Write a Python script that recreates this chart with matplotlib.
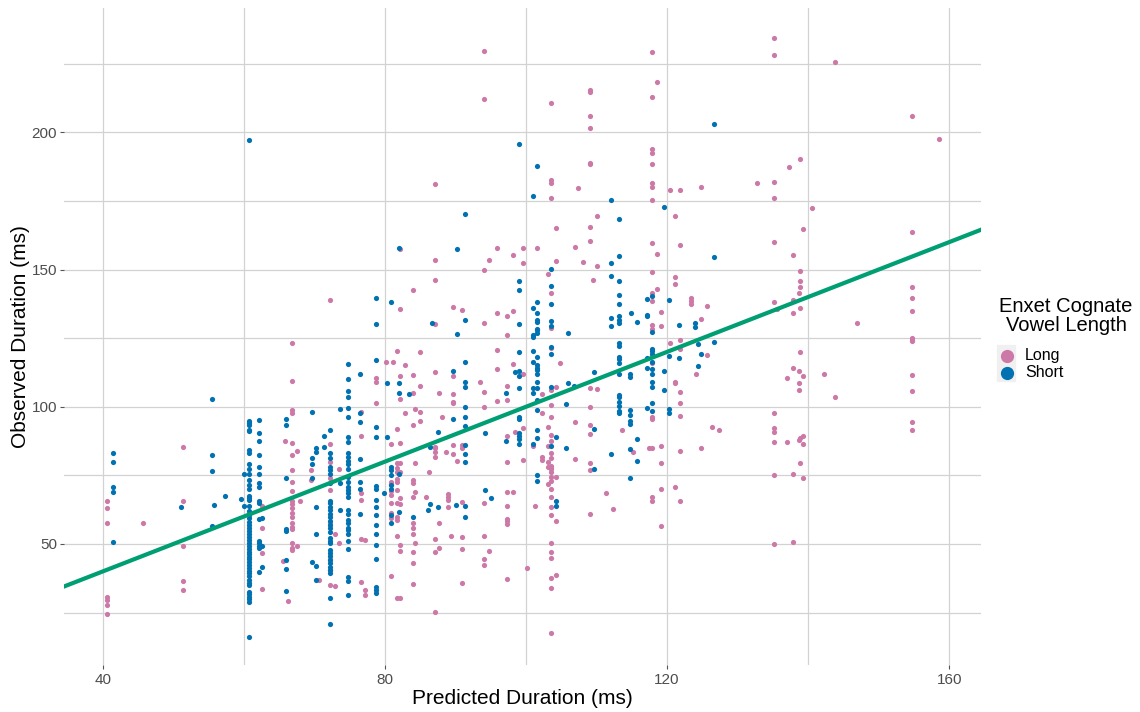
import matplotlib
matplotlib.use("Agg")
import matplotlib.pyplot as plt
from matplotlib.lines import Line2D
from matplotlib.patches import Rectangle

plt.rcParams['font.family'] = ['Liberation Sans', 'DejaVu Sans']

# ---------------- data ----------------
# Each entry: (predicted duration, [observed durations])
short_columns = [
    (41.4, [83.1, 79.7, 70.6, 68.8, 50.6]),
    (51.1, [63.3]),
    (55.5, [102.8, 82.3, 76.7, 56.6]),
    (55.7, [64.2]),
    (57.3, [67.4]),
    (59.6, [66.4]),
    (60.0, [75.5, 63.9]),
    (60.7, [197.2, 94.9, 94.2, 93.3, 91.7, 91.0, 84.2, 83.2, 79.1, 77.2, 75.5, 73.3,
            71.6, 69.9, 67.4, 66.8, 65.9, 63.8, 62.1, 60.4, 59.3, 58.1, 56.9, 55.7,
            54.7, 53.6, 52.4, 51.4, 50.4, 49.2, 48.0, 47.2, 46.3, 45.3, 44.4, 43.3,
            42.3, 41.4, 40.2, 39.3, 38.3, 36.8, 35.9, 34.9, 32.6, 31.7, 30.8, 29.8,
            28.9, 16.2]),
    (62.2, [95.1, 90.5, 87.5, 82.5, 78.1, 75.5, 72.1, 70.8, 65.7, 64.8, 59.1, 51.2,
            50.2, 49.2, 48.4, 39.7]),
    (62.5, [59.3, 49.1, 41.6]),
    (66.0, [95.6, 93.3, 74.1, 55.3, 54.8, 44.1, 40.7, 32.7]),
    (69.6, [98.2, 81.4, 79.3, 73.9, 43.6]),
    (70.2, [84.8, 83.4, 63.6, 53.6, 41.9, 36.8]),
    (71.3, [89.4, 85.4]),
    (72.2, [91.5, 83.0, 81.4, 78.1, 76.9, 75.5, 72.1, 65.7, 64.8, 63.6, 62.3, 61.1,
            59.9, 58.5, 56.9, 55.7, 54.4, 52.0, 51.2, 50.2, 47.8, 46.8, 45.8, 44.1,
            42.9, 41.7, 40.5, 39.5, 30.2, 21.0]),
    (73.6, [99.3, 72.3, 62.3]),
    (74.8, [115.4, 110.1, 105.7, 103.6, 99.4, 96.4, 89.1, 87.2, 83.0, 81.8, 80.3,
            79.0, 77.5, 74.5, 72.7, 70.8, 69.6, 68.4, 67.2, 62.3, 60.9, 58.9, 57.5,
            56.0, 55.1, 53.6, 51.2, 48.1, 38.0, 36.6, 31.4]),
    (76.5, [111.8, 97.6, 94.5, 80.9, 72.7, 70.2, 60.9]),
    (78.8, [139.5, 130.1, 117.0, 92.5, 88.8, 71.3, 70.2, 66.0, 63.6, 60.5, 56.9,
            53.6, 49.8, 44.6, 34.4, 33.2, 32.2]),
    (79.9, [68.7]),
    (80.3, [108.7, 88.9]),
    (80.8, [138.0, 78.1, 76.9, 75.3, 71.5, 70.2, 60.5, 57.7]),
    (82.0, [157.7, 108.7, 104.9, 75.5, 61.6]),
    (83.4, [104.5]),
    (84.0, [59.7]),
    (86.1, [62.3]),
    (86.4, [85.4, 64.5]),
    (86.7, [130.6]),
    (87.5, [90.9, 63.6]),
    (89.7, [113.1, 95.5]),
    (90.1, [64.2]),
    (90.2, [157.5, 126.6]),
    (91.3, [170.2, 131.5, 116.4, 108.9, 107.3, 100.0, 96.1, 93.0, 86.0, 82.8, 79.7,
            63.9, 59.7]),
    (94.2, [90.5, 69.6]),
    (95.0, [66.7]),
    (97.1, [105.1, 87.5]),
    (98.5, [112.8]),
    (99.0, [195.7, 146.0, 142.6, 130.1, 120.0, 113.1, 111.2, 107.0, 96.4, 95.7,
            90.5, 89.3, 88.4, 86.6]),
    (101.0, [176.7, 136.1, 126.1, 125.3, 120.4, 116.4, 107.0, 105.1, 86.3]),
    (101.6, [187.7, 138.3, 134.0, 131.6, 131.0, 128.5, 127.9, 127.0, 118.2, 115.3,
             114.3, 113.4, 112.1, 109.1, 107.0, 102.4, 98.8, 91.7, 88.7, 75.1, 73.0]),
    (103.5, [150.2, 144.1, 137.4, 131.2, 129.4, 121.6, 119.4, 107.3, 85.7]),
    (104.2, [88.9, 65.7, 63.9]),
    (105.6, [101.0, 84.8]),
    (105.9, [127.0, 108.7]),
    (106.8, [107.5]),
    (109.6, [112.5, 91.9, 77.3]),
    (112.1, [175.2, 152.4, 147.6, 132.4, 129.4, 82.8]),
    (113.2, [168.3, 154.9, 145.7, 140.7, 137.6, 133.0, 131.6, 130.4, 123.1, 122.1,
             118.2, 117.4, 115.8, 111.9, 104.3, 103.6, 101.8, 100.2, 98.3, 97.6]),
    (114.7, [111.8, 110.9, 98.8, 97.0, 94.9, 93.7, 84.5, 74.2]),
    (114.9, [134.0]),
    (115.7, [131.0, 88.1, 80.3]),
    (117.1, [139.2, 133.4, 133.0, 117.9, 114.0, 99.4]),
    (117.8, [140.3, 127.1, 121.0, 120.3, 119.4, 116.2, 113.6, 112.1, 109.1, 107.3,
             101.5, 98.4]),
    (119.6, [172.9, 112.9, 106.2]),
    (120.2, [138.9, 118.5, 99.0, 97.6]),
    (121.7, [129.9, 117.9]),
    (124.0, [130.5, 128.9]),
    (124.4, [122.8, 114.8]),
    (124.8, [119.3]),
    (126.6, [203.0, 154.7, 123.7]),
]

long_columns = [
    (40.6, [65.5, 63.1, 57.7, 30.8, 29.5, 27.7, 24.6]),
    (45.7, [57.7]),
    (51.3, [85.3, 65.7, 49.1, 36.6, 33.2]),
    (62.5, [63.9, 55.8, 46.8, 33.6]),
    (65.6, [43.9]),
    (65.9, [87.5]),
    (66.2, [29.4]),
    (66.8, [123.4, 109.5, 98.7, 97.6, 86.9, 82.5, 76.9, 72.5, 69.4, 65.7, 64.4, 63.2,
            61.4, 59.7, 57.7, 56.3, 55.3, 50.2, 48.4, 47.9]),
    (67.6, [83.7, 49.1]),
    (67.9, [65.7]),
    (69.5, [76.9, 73.3]),
    (70.7, [36.9]),
    (72.2, [138.8, 86.6, 80.0, 73.9, 69.6, 57.7, 44.4, 40.5, 35.0]),
    (72.9, [53.6, 34.6]),
    (73.5, [77.2, 50.2]),
    (76.6, [98.2, 89.4, 68.7, 66.1, 51.7, 36.2]),
    (77.2, [51.4, 33.2, 31.4]),
    (78.8, [110.3, 109.1, 101.2]),
    (80.1, [116.4]),
    (80.8, [86.6, 72.7, 71.7, 69.4, 67.8, 65.0, 61.4, 59.3, 38.3]),
    (81.1, [116.4]),
    (81.7, [120.3, 92.0, 79.6, 77.8, 76.3, 73.5, 72.7, 69.6, 65.0, 59.9, 58.7, 53.0,
            30.2]),
    (82.2, [157.5, 135.7, 111.3, 103.0, 86.9, 79.4, 76.3, 66.6, 64.5, 49.6, 47.5,
            30.4]),
    (82.8, [115.2, 97.8]),
    (84.0, [142.4, 111.5, 105.1, 93.3, 73.3, 72.1, 67.2, 57.5, 56.0, 53.8, 47.2,
            42.9, 35.4]),
    (84.3, [99.1, 79.4, 69.0, 50.2]),
    (84.9, [119.9, 107.5, 98.2, 94.8]),
    (85.8, [67.2]),
    (86.3, [76.3]),
    (87.1, [181.0, 153.5, 146.2, 130.1, 112.5, 85.4, 84.8, 83.5, 81.8, 51.9, 46.9,
            25.3]),
    (87.6, [105.1, 57.7, 48.7]),
    (88.1, [96.4]),
    (88.7, [83.6]),
    (88.9, [68.2, 67.2, 66.0, 63.3]),
    (89.3, [52.9]),
    (89.7, [136.2, 111.2, 104.5, 101.8, 101.2, 86.0, 82.8]),
    (90.2, [80.3]),
    (90.9, [135.4, 86.0, 84.8, 65.4, 52.6, 48.3, 35.9]),
    (93.5, [109.1]),
    (94.1, [229.7, 212.0, 150.0, 130.4, 105.3, 99.8, 64.8, 53.0, 44.6, 42.2]),
    (94.8, [153.5, 47.5]),
    (95.9, [158.0, 134.3, 120.7, 113.6, 102.2]),
    (97.3, [132.9, 126.2, 107.5, 102.4, 89.3, 79.7, 68.9, 63.8, 59.2, 58.3, 57.2,
            37.4]),
    (98.2, [155.4, 134.9, 115.4, 69.1]),
    (98.5, [90.9]),
    (99.6, [158.0, 152.5, 112.1, 92.1, 80.6]),
    (100.2, [41.4]),
    (101.0, [85.7]),
    (101.3, [63.9]),
    (101.6, [157.9]),
    (102.3, [104.6, 97.8, 81.8, 80.6]),
    (103.1, [148.5, 92.7, 85.8, 79.8, 78.1, 71.8]),
    (103.6, [210.8, 182.6, 181.6, 176.0, 141.3, 128.8, 121.3, 106.1, 100.6, 96.4,
             89.6, 87.6, 83.0, 81.5, 78.5, 77.9, 77.2, 76.3, 74.5, 73.0, 70.0, 67.2,
             63.3, 60.5, 50.2, 47.2, 44.8, 37.7, 33.8, 17.4]),
    (104.3, [165.2, 153.2, 107.3, 74.5, 58.3, 38.8]),
    (104.8, [115.9]),
    (107.0, [158.2, 94.5, 80.9]),
    (107.4, [179.7]),
    (108.1, [152.7]),
    (109.1, [215.4, 214.8, 206.0, 201.7, 188.9, 188.3, 165.6, 160.5, 107.0, 100.0,
             93.3, 90.0, 79.5, 77.0, 60.9]),
    (109.5, [146.3]),
    (110.0, [169.4, 151.3, 106.4]),
    (111.3, [68.7]),
    (112.3, [62.9]),
    (113.6, [91.7]),
    (115.2, [83.4]),
    (117.5, [85.1]),
    (117.9, [229.2, 213.0, 194.1, 192.6, 188.6, 181.4, 180.2, 175.2, 159.6, 149.2,
             141.3, 138.5, 129.8, 128.5, 115.8, 96.1, 95.5, 84.9, 67.0, 65.6]),
    (118.5, [218.4, 155.5, 142.8]),
    (119.2, [134.5, 129.3, 85.7, 79.6, 70.0, 56.6]),
    (120.4, [179.1, 123.4]),
    (121.1, [169.4, 147.1, 144.6, 109.1, 108.5, 70.6]),
    (121.8, [178.8, 159.0, 124.3, 121.1, 105.3, 101.5, 96.7, 84.0, 65.5]),
    (123.4, [139.6, 138.5, 137.4]),
    (124.1, [112.0]),
    (124.8, [180.2, 132.1, 84.8]),
    (125.6, [136.6, 118.8]),
    (126.3, [92.8]),
    (127.4, [91.7]),
    (132.7, [181.4]),
    (135.2, [234.2, 228.2, 181.9, 176.0, 159.9, 138.1, 97.6, 92.3, 90.9, 87.2, 75.0,
             50.0]),
    (135.6, [135.7]),
    (137.0, [110.6, 87.0]),
    (137.3, [187.2]),
    (137.8, [155.4, 139.0, 134.0, 114.0, 75.6, 50.6]),
    (138.7, [141.5, 112.9, 108.7, 106.1, 87.9]),
    (138.9, [190.3, 149.3, 145.7, 143.7, 136.0, 120.0, 88.5, 79.5]),
    (139.2, [164.6, 111.2, 89.3, 86.4, 73.9]),
    (140.5, [172.4]),
    (142.3, [112.0]),
    (143.8, [225.8, 103.6]),
    (146.9, [130.6]),
    (154.7, [206.0, 163.8, 143.7, 139.6, 134.9, 124.9, 124.3, 123.9, 111.4, 105.8,
             94.5, 91.5]),
    (158.6, [197.5]),
]

# Reference line: observed = predicted (identity)
ref_intercept = 0.0
ref_slope = 1.0

x_ticks = [40, 80, 120, 160]
y_ticks = [50, 100, 150, 200]
x_minor = [60, 100, 140]
y_minor = [25, 75, 125, 175, 225]

legend_title = "Enxet Cognate\nVowel Length"
legend_labels = ["Long", "Short"]
x_title = "Predicted Duration (ms)"
y_title = "Observed Duration (ms)"

# ---------------- styling ----------------
col_long = "#CC79A7"
col_short = "#0072B2"
col_line = "#009E73"
grid_col = "#d2d2d2"
text_col = "#4d4d4d"


def flatten(cols):
    xs, ys = [], []
    for x, yl in cols:
        for y in yl:
            xs.append(x)
            ys.append(y)
    return xs, ys


lx, ly = flatten(long_columns)
sx, sy = flatten(short_columns)

W, H = 1140, 712
fig = plt.figure(figsize=(W / 100, H / 100), dpi=100)
L, R, T, B = 64, 981, 8, 665
ax = fig.add_axes([L / W, 1 - B / H, (R - L) / W, (B - T) / H])

xlim = (34.5, 164.5)
ylim = (5.9, 245.3)
ax.set_xlim(*xlim)
ax.set_ylim(*ylim)

for s in ax.spines.values():
    s.set_visible(False)

ax.set_xticks(x_ticks)
ax.set_yticks(y_ticks)
ax.set_xticks(x_minor, minor=True)
ax.set_yticks(y_minor, minor=True)
ax.tick_params(which='major', length=3, width=0.8, color='#555555',
               labelsize=11, labelcolor=text_col)
ax.tick_params(which='minor', length=0)
ax.tick_params(axis='x', which='major', pad=3)
ax.tick_params(axis='y', which='major', pad=2)
ax.grid(True, which='both', color=grid_col, linewidth=0.9)
ax.set_axisbelow(True)

ax.scatter(lx, ly, s=14, color=col_long, linewidths=0, zorder=3)
ax.scatter(sx, sy, s=14, color=col_short, linewidths=0, zorder=3)

ax.axline((0, ref_intercept), slope=ref_slope, color=col_line, linewidth=3.0,
          zorder=4)

ax.set_xlabel(x_title, fontsize=15, color='black', labelpad=1)
ax.set_ylabel(y_title, fontsize=15, color='black', labelpad=1)

# ---------------- legend (drawn manually in pixel coords) ----------------
def fx(px):
    return px / W


def fy(py):
    return 1 - py / H


fig.text(fx(1066), fy(316), legend_title, ha='center', va='center',
         fontsize=14.5, color='black', linespacing=1.0)
key_cols = [col_long, col_short]
key_y = [355.5, 372.5]
fig.patches.append(Rectangle((fx(997), fy(381)), 18 / W, 36 / H,
                             transform=fig.transFigure, color='#f0f0f0',
                             zorder=1))
for c, yy, lab in zip(key_cols, key_y, legend_labels):
    fig.lines.append(Line2D([fx(1006.5)], [fy(yy)], marker='o', markersize=8.5,
                            color=c, linestyle='none',
                            transform=fig.transFigure, zorder=2))
    fig.text(fx(1025), fy(yy), lab, ha='left', va='center', fontsize=11.5,
             color='black')

fig.savefig("out.png", dpi=100)
